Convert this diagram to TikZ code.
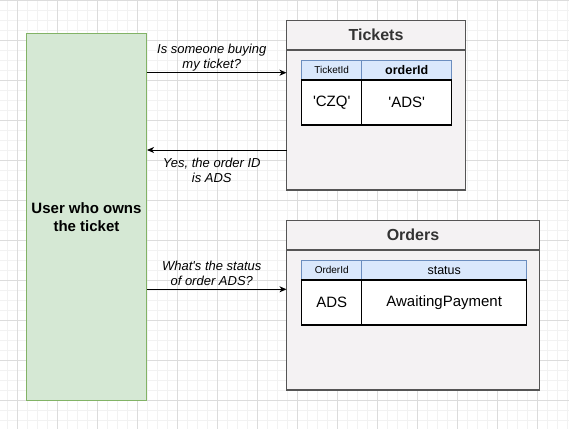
\documentclass[tikz,border=0pt]{standalone}
\usepackage{fontspec}
\setmainfont{Liberation Sans}[Ligatures=TeXOff]
\usetikzlibrary{arrows.meta}

\definecolor{userfill}{HTML}{D5E8D4}
\definecolor{userline}{HTML}{82B366}
\definecolor{dbfill}{HTML}{F4F2F3}
\definecolor{dbline}{HTML}{555555}
\definecolor{headfill}{HTML}{DAE8FC}
\definecolor{headline}{HTML}{6C8EBF}
\definecolor{gridminor}{HTML}{F2F2F2}
\definecolor{gridmajor}{HTML}{DCDCDC}

\tikzset{
  userbox/.style={draw=userline,fill=userfill,line width=1pt,minimum width=120pt,minimum height=367pt,
    align=center,font=\fontsize{15}{17.5}\selectfont\bfseries},
  dbbox/.style={draw=dbline,fill=dbfill,line width=1.3pt,anchor=north west,inner sep=0pt,outer sep=0pt},
  dbtitle/.style={text=black!80,font=\fontsize{16}{18}\selectfont\bfseries},
  headcell/.style={draw=headline,fill=headfill,line width=1pt,minimum height=19.3pt,anchor=north west,
    inner sep=0pt,outer sep=0pt},
  bodycell/.style={draw=black,fill=white,line width=1.3pt,minimum height=45pt,anchor=north west,
    inner sep=0pt,outer sep=0pt,font=\fontsize{15}{17}\selectfont},
  msg/.style={align=center,font=\fontsize{13}{15}\selectfont\itshape},
  call/.style={-{Stealth[length=7pt,width=6pt,inset=2pt]},line width=1pt}
}

\begin{document}
\begin{tikzpicture}[x=1pt,y=-1pt]
\useasboundingbox (0,0) rectangle (569,429);

% grid
\foreach \x in {6.7,16.7,...,566.7} \draw[gridminor] (\x,0) -- (\x,429);
\foreach \y in {0,10,...,420} \draw[gridminor] (0,\y) -- (569,\y);
\foreach \x in {16.7,56.7,...,536.7} \draw[gridmajor] (\x,0) -- (\x,429);
\foreach \y in {0,40,...,400} \draw[gridmajor] (0,\y) -- (569,\y);

\node(user) at (86.5,217)[userbox] {User who owns\\the ticket};

% tickets service
\node(tickets) at (286.5,20.5)[dbbox,minimum width=179pt,minimum height=169.5pt] {};
\draw[dbline,line width=1.3pt] ([yshift=-29.5pt]tickets.north west) -- ([yshift=-29.5pt]tickets.north east);
\node(ticketstitle) at (376,35)[dbtitle] {Tickets};

\node(tid) at (301.7,60.7)[headcell,minimum width=60pt,font=\fontsize{10}{12}\selectfont] {TicketId};
\node(toid) at (tid.north east)[headcell,minimum width=90pt,font=\fontsize{12.5}{14}\selectfont\bfseries] {orderId};
\node(czq) at (tid.south west)[bodycell,minimum width=60pt] {'CZQ'};
\node(tads) at (czq.north east)[bodycell,minimum width=90pt] {'ADS'};

% orders service
\node(orders) at (286.5,220.5)[dbbox,minimum width=253pt,minimum height=169.5pt] {};
\draw[dbline,line width=1.3pt] ([yshift=-29.5pt]orders.north west) -- ([yshift=-29.5pt]orders.north east);
\node(orderstitle) at (413,235)[dbtitle] {Orders};

\node(oid) at (301.7,260.7)[headcell,minimum width=60pt,font=\fontsize{10}{12}\selectfont] {OrderId};
\node(ostatus) at (oid.north east)[headcell,minimum width=165pt,font=\fontsize{12.5}{14}\selectfont] {status};
\node(oads) at (oid.south west)[bodycell,minimum width=60pt] {ADS};
\node(awaiting) at (oads.north east)[bodycell,minimum width=165pt] {AwaitingPayment};

\coordinate(q1) at (0,72.7);
\coordinate(a1) at (0,150);
\coordinate(q2) at (0,289.3);

\draw[call] (user.east |- q1) -- node[msg,above=-2.5pt,xshift=-5pt] {Is someone buying\\my ticket?} (tickets.west |- q1);
\draw[call] (tickets.west |- a1) -- node[msg,below=4pt,xshift=-5pt] {Yes, the order ID\\is ADS} (user.east |- a1);
\draw[call] (user.east |- q2) -- node[msg,above=0pt,xshift=-5pt] {What's the status\\of order ADS?} (orders.west |- q2);

\end{tikzpicture}
\end{document}
